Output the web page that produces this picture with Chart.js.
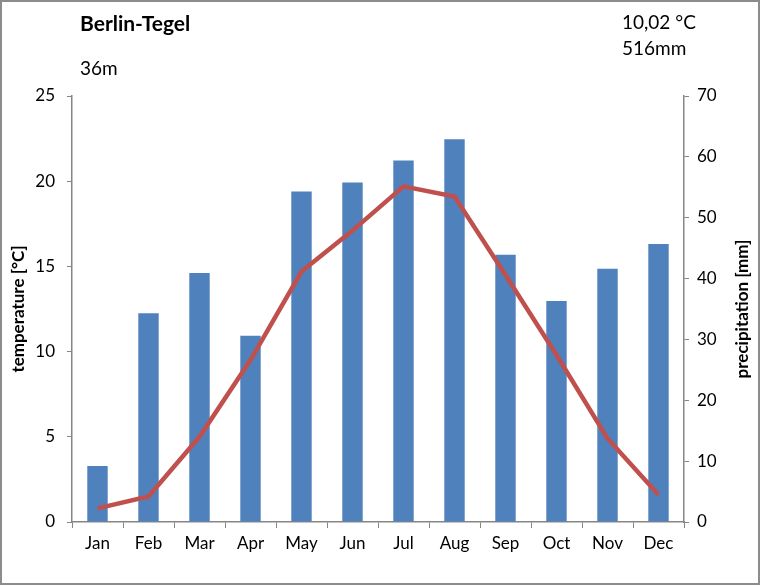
<!DOCTYPE html>
<html>
<head>
<meta charset="utf-8">
<script src="https://cdn.jsdelivr.net/npm/chart.js@4.4.1/dist/chart.umd.min.js"></script>
<style>
  html, body { margin: 0; padding: 0; background: #fff; }
  #wrap { position: relative; width: 760px; height: 585px; font-family: Lato, "Open Sans", sans-serif; color: #000; }
  #wrap canvas { position: absolute; left: 0; top: 0; }
  .lbl { position: absolute; white-space: nowrap; line-height: 1; }
  #title { left: 80px; top: 12px; font-size: 21px; font-weight: bold; }
  #elev { left: 80px; top: 58px; font-size: 19px; }
  #avgT { left: 622px; top: 12px; font-size: 19px; }
  #sumP { left: 622px; top: 38px; font-size: 19px; }
</style>
</head>
<body>
<div id="wrap">
  <canvas id="chart" width="760" height="585"></canvas>
  <div class="lbl" id="title">Berlin-Tegel</div>
  <div class="lbl" id="elev">36m</div>
  <div class="lbl" id="avgT">10,02 °C</div>
  <div class="lbl" id="sumP">516mm</div>
</div>
<script>
const MONTHS = ["Jan","Feb","Mar","Apr","May","Jun","Jul","Aug","Sep","Oct","Nov","Dec"];
const TEMPERATURE = [0.8, 1.5, 5.0, 9.5, 14.7, 17.1, 19.7, 19.1, 14.5, 9.8, 4.9, 1.6];
const PRECIPITATION = [9.2, 34.3, 40.9, 30.6, 54.3, 55.8, 59.4, 62.9, 43.9, 36.3, 41.6, 45.7];
const TEMP_TICKS = [0, 25, 5];   // min, max, step
const PREC_TICKS = [0, 70, 10];

const AXIS = "#868686";
const FONT = "Lato, 'Open Sans', sans-serif";

// axis titles + frame, drawn on the canvas
const extras = {
  id: "extras",
  afterDraw(chart) {
    const ctx = chart.ctx;
    const a = chart.chartArea;
    const midY = (a.top + a.bottom) / 2;
    ctx.save();
    ctx.strokeStyle = "#8c8c8c";
    ctx.lineWidth = 2;
    ctx.strokeRect(1, 1, chart.width - 2, chart.height - 2);
    ctx.restore();
    [["temperature [°C]", 19], ["precipitation [mm]", 743]].forEach(([txt, x]) => {
      ctx.save();
      ctx.fillStyle = "#000";
      ctx.font = "bold 17px " + FONT;
      ctx.textAlign = "center";
      ctx.textBaseline = "middle";
      ctx.translate(x, midY);
      ctx.rotate(-Math.PI / 2);
      ctx.fillText(txt, 0, 0);
      ctx.restore();
    });
  }
};

new Chart(document.getElementById("chart"), {
  type: "bar",
  data: {
    labels: MONTHS,
    datasets: [
      {
        type: "line",
        label: "temperature",
        data: TEMPERATURE,
        yAxisID: "yT",
        borderColor: "#C0504D",
        borderWidth: 4.5,
        pointRadius: 0,
        tension: 0,
        order: 0,
      },
      {
        type: "bar",
        label: "precipitation",
        data: PRECIPITATION,
        yAxisID: "yP",
        backgroundColor: "#4F81BD",
        borderWidth: 0,
        categoryPercentage: 0.4,
        barPercentage: 1,
        order: 1,
      },
    ],
  },
  options: {
    responsive: false,
    animation: false,
    events: [],
    layout: { padding: { top: 96, left: 0, right: 0, bottom: 0 } },
    plugins: { legend: { display: false }, tooltip: { enabled: false } },
    scales: {
      x: {
        offset: true,
        afterFit: (s) => { s.height = 63; },
        grid: { offset: true, drawOnChartArea: false, drawTicks: true, tickLength: 6, color: AXIS },
        border: { display: true, color: AXIS, width: 1.5 },
        ticks: { color: "#000", font: { family: FONT, size: 17 }, padding: 5, maxRotation: 0 },
      },
      yT: {
        position: "left",
        min: TEMP_TICKS[0], max: TEMP_TICKS[1],
        afterFit: (s) => { s.width = 72; },
        grid: { drawOnChartArea: false, drawTicks: true, tickLength: 5, color: AXIS },
        border: { display: true, color: AXIS, width: 1.5 },
        ticks: { stepSize: TEMP_TICKS[2], color: "#000", font: { family: FONT, size: 17 }, padding: 12 },
      },
      yP: {
        position: "right",
        min: PREC_TICKS[0], max: PREC_TICKS[1],
        afterFit: (s) => { s.width = 76; },
        grid: { drawOnChartArea: false, drawTicks: true, tickLength: 5, color: AXIS },
        border: { display: true, color: AXIS, width: 1.5 },
        ticks: { stepSize: PREC_TICKS[2], color: "#000", font: { family: FONT, size: 17 }, padding: 8 },
      },
    },
  },
  plugins: [extras],
});
</script>
</body>
</html>
